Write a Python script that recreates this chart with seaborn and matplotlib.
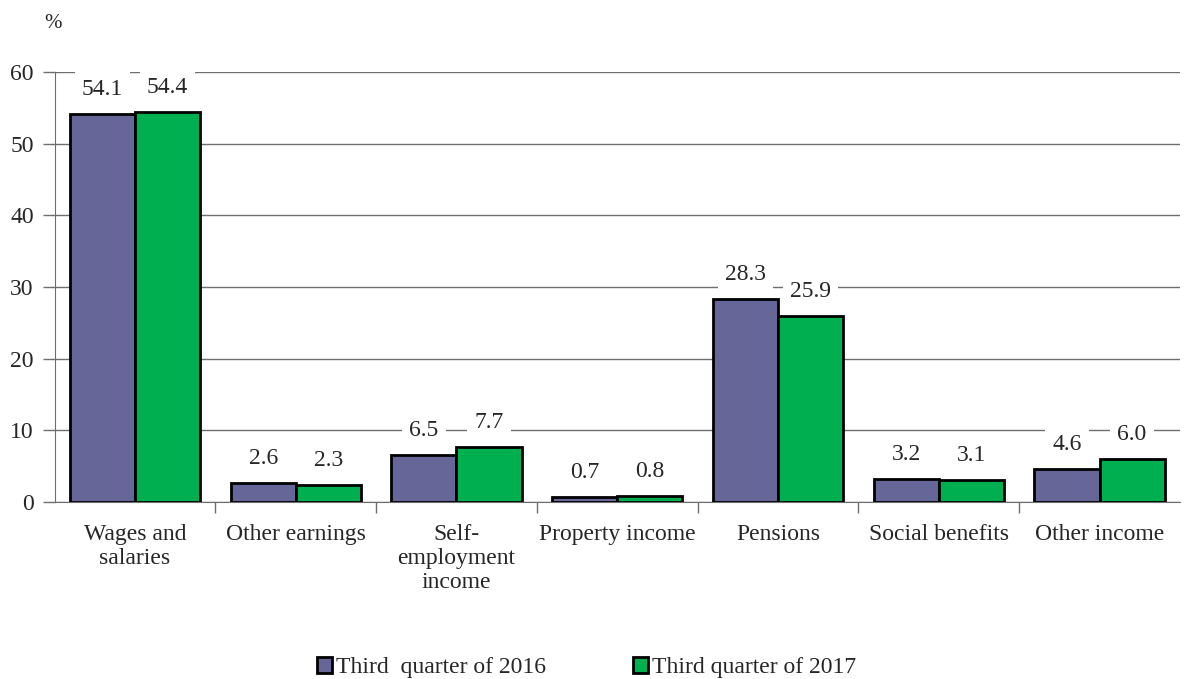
import numpy as np
import pandas as pd
import matplotlib
matplotlib.use("Agg")
import matplotlib.pyplot as plt
import seaborn as sns

# data
categories = ["Wages and\nsalaries", "Other earnings", "Self-\nemployment\nincome",
              "Property income", "Pensions", "Social benefits", "Other income"]
series_names = ["Third  quarter of 2016", "Third quarter of 2017"]
values_2016 = [54.1, 2.6, 6.5, 0.7, 28.3, 3.2, 4.6]
values_2017 = [54.4, 2.3, 7.7, 0.8, 25.9, 3.1, 6.0]
colors = ["#666699", "#00B050"]

df = pd.DataFrame({
    "category": categories * 2,
    "series": [series_names[0]] * len(categories) + [series_names[1]] * len(categories),
    "value": values_2016 + values_2017,
})

sns.set_style("white")
plt.rcParams["font.family"] = ["Liberation Serif", "DejaVu Serif"]

fig = plt.figure(figsize=(11.87, 6.79), dpi=100)
ax = fig.add_axes([0.046, 0.261, 0.948, 0.633])

sns.barplot(data=df, x="category", y="value", hue="series", order=categories,
            hue_order=series_names, palette=colors, width=0.81,
            edgecolor="black", linewidth=2, saturation=1, ax=ax, zorder=3)

grid_col = "#6e6e6e"
ax.set_xlim(-0.5, len(categories) - 0.5)
ax.set_ylim(0, 60)
ax.set_yticks(np.arange(0, 61, 10))
ax.yaxis.grid(True, color=grid_col, linewidth=1, zorder=0)
ax.set_axisbelow(True)
ax.set_xlabel("")
ax.set_ylabel("")

for side in ["top", "right"]:
    ax.spines[side].set_visible(False)
ax.spines["left"].set_color(grid_col)
ax.spines["bottom"].set_color(grid_col)

ax.tick_params(axis="y", which="major", direction="out", length=9, width=1,
               color=grid_col, labelsize=17, pad=6, left=True)
ax.tick_params(axis="x", which="major", length=0, labelsize=17, pad=16)
for lbl in ax.get_xticklabels():
    lbl.set_linespacing(1.2)
ax.set_xticks(np.arange(0.5, len(categories) - 1, 1.0), minor=True)
ax.tick_params(axis="x", which="minor", direction="out", length=8, width=1,
               color=grid_col, bottom=True)

# value labels with white boxes that cut the gridlines
for container in ax.containers:
    for bar in container:
        h = bar.get_height()
        ax.annotate(f"{h:.1f}", (bar.get_x() + bar.get_width() / 2, h),
                    xytext=(0, 17.5), textcoords="offset points",
                    ha="center", va="center", fontsize=17, zorder=5,
                    bbox=dict(boxstyle="square,pad=0.3", fc="white", ec="none"))

fig.text(0.037, 0.965, "%", fontsize=15, ha="left", va="center")

handles, labels = ax.get_legend_handles_labels()
ax.legend(handles, labels, loc="center", bbox_to_anchor=(0.494, 0.017),
          bbox_transform=fig.transFigure, ncol=2, frameon=False, fontsize=17,
          handlelength=0.65, handleheight=0.65, handletextpad=0.15,
          columnspacing=3.7)
for h in ax.get_legend().legend_handles:
    h.set_edgecolor("black")
    h.set_linewidth(2)

fig.savefig("out.png", dpi=100, facecolor="white")
